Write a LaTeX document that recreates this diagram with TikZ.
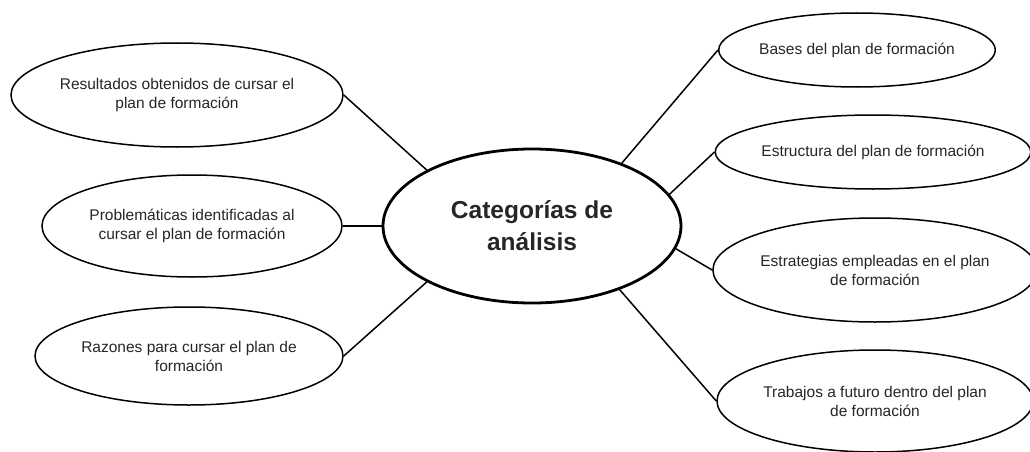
\documentclass[tikz,border=0pt]{standalone}
\usepackage{fontspec}
\setmainfont{Liberation Sans}
\usetikzlibrary{shapes.geometric}
\tikzset{
  cat/.style={ellipse, draw, line width=1.5pt, inner sep=0pt, align=center,
    font=\fontsize{15.5}{19}\selectfont, text=black!85},
  main/.style={ellipse, draw, line width=2.8pt, inner sep=0pt, align=center,
    font=\fontsize{24.5}{32}\selectfont\bfseries, text=black!85},
  link/.style={line width=1.5pt}
}
\begin{document}
\begin{tikzpicture}[x=1pt,y=-1pt]
\useasboundingbox (0,0) rectangle (1030,452);
\node[main, minimum width=298pt, minimum height=154pt] (cen) at (532,226) {Categorías de\\análisis};
\node[cat, minimum width=332pt, minimum height=104pt] (res) at (177,95) {Resultados obtenidos de cursar el\\plan de formación};
\node[cat, minimum width=300pt, minimum height=102pt] (pro) at (192,226) {Problemáticas identificadas al\\cursar el plan de formación};
\node[cat, minimum width=308pt, minimum height=98pt] (raz) at (189,356) {Razones para cursar el plan de\\formación};
\node[cat, minimum width=272pt, minimum height=74pt] (bas) at (857,50) {Bases del plan de formación};
\node[cat, minimum width=304pt, minimum height=74pt] (est) at (873,152) {Estructura del plan de formación};
\node[cat, minimum width=310pt, minimum height=104pt] (estr) at (875,270) {Estrategias empleadas en el plan\\de formación};
\node[cat, minimum width=310pt, minimum height=102pt] (tra) at (875,401) {Trabajos a futuro dentro del plan\\de formación};
\draw[link] (res.east) -- (cen.152);
\draw[link] (pro.east) -- (cen.west);
\draw[link] (raz.east) -- (cen.208);
\draw[link] (cen.35) -- (bas.west);
\draw[link] (cen.13) -- (est.west);
\draw[link] (cen.351) -- (estr.west);
\draw[link] (cen.324) -- (tra.west);
\end{tikzpicture}
\end{document}
